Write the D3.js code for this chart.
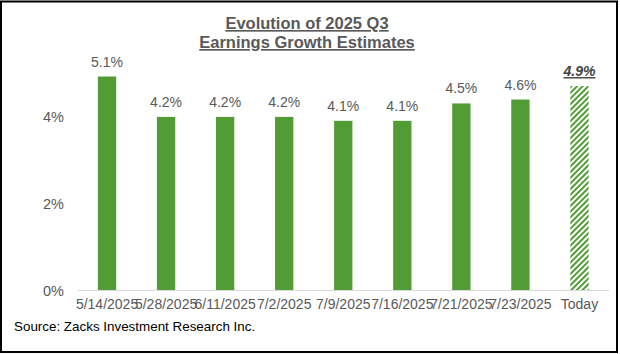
<!DOCTYPE html>
<html>
<head>
<meta charset="utf-8">
<script src="https://cdn.jsdelivr.net/npm/d3@7"></script>
<style>
  html, body { margin: 0; padding: 0; background: #fff; }
  svg { display: block; }
  text { font-family: "Liberation Sans", Arial, sans-serif; }
</style>
</head>
<body>
<svg id="chart" width="620" height="354"></svg>
<script>
// ---- data ----
const categories = ["5/14/2025", "5/28/2025", "6/11/2025", "7/2/2025", "7/9/2025", "7/16/2025", "7/21/2025", "7/23/2025", "Today"];
// printed estimate labels (%)
const estimates = [5.1, 4.2, 4.2, 4.2, 4.1, 4.1, 4.5, 4.6, 4.9];
// bar heights as drawn against the axis (%)
const barHeights = [4.93, 4.0, 4.0, 4.0, 3.91, 3.91, 4.31, 4.40, 4.71];
const yTicks = [0, 2, 4];
const titleLines = ["Evolution of 2025 Q3", "Earnings Growth Estimates"];
const sourceText = "Source: Zacks Investment Research Inc.";

// ---- layout ----
const svg = d3.select("#chart");
const W = 620, H = 354;
const plot = { left: 77.5, right: 609, top: 30, bottom: 290.5 };
const green = "#529c36";

svg.append("rect").attr("x", 1).attr("y", 1.5).attr("width", 616).attr("height", 350.5)
  .attr("fill", "#fff").attr("stroke", "#000").attr("stroke-width", 2);

const defs = svg.append("defs");
const pat = defs.append("pattern").attr("id", "hatch")
  .attr("patternUnits", "userSpaceOnUse").attr("width", 4).attr("height", 4)
  .attr("patternTransform", "rotate(45)");
pat.append("rect").attr("width", 4).attr("height", 4).attr("fill", "#fff");
pat.append("rect").attr("x", 0).attr("width", 2).attr("height", 4).attr("fill", green);

const x = d3.scaleBand().domain(categories).range([plot.left, plot.right])
  .paddingInner(0.69).paddingOuter(0.345);
const y = d3.scaleLinear().domain([0, 6]).range([plot.bottom, plot.bottom - 6 * 43.4]);

// title
const title = svg.append("text").attr("text-anchor", "middle")
  .attr("font-size", 16.5).attr("font-weight", "bold").attr("fill", "#595959")
  .attr("text-decoration", "underline");
titleLines.forEach((t, i) => {
  title.append("tspan").attr("x", 307).attr("y", 29 + i * 19).text(t);
});

// y axis labels
const yAxis = d3.axisLeft(y).tickValues(yTicks).tickFormat(d => d + "%").tickSize(0).tickPadding(0);
const ga = svg.append("g").attr("transform", `translate(64,0)`).call(yAxis);
ga.select(".domain").remove();
ga.selectAll("text").attr("font-size", 14.5).attr("fill", "#595959")
  .attr("font-family", "Liberation Sans, Arial, sans-serif");

// bars
const last = categories.length - 1;
svg.append("g").selectAll("rect").data(barHeights).join("rect")
  .attr("x", (d, i) => x(categories[i]))
  .attr("width", x.bandwidth())
  .attr("y", d => y(d))
  .attr("height", d => y(0) - y(d))
  .attr("fill", (d, i) => i === last ? "url(#hatch)" : green);

// baseline
svg.append("line").attr("x1", plot.left).attr("x2", plot.right)
  .attr("y1", plot.bottom).attr("y2", plot.bottom)
  .attr("stroke", "#d9d9d9").attr("stroke-width", 1.2);

// value labels
svg.append("g").selectAll("text").data(estimates).join("text")
  .attr("x", (d, i) => x(categories[i]) + x.bandwidth() / 2)
  .attr("y", (d, i) => y(barHeights[i]) - 10)
  .attr("text-anchor", "middle")
  .attr("font-size", 14)
  .attr("fill", (d, i) => i === last ? "#404040" : "#595959")
  .attr("font-weight", (d, i) => i === last ? "bold" : "normal")
  .attr("font-style", (d, i) => i === last ? "italic" : "normal")
  .attr("text-decoration", (d, i) => i === last ? "underline" : "none")
  .text(d => d.toFixed(1) + "%");

// x labels
const xAxis = d3.axisBottom(x).tickSize(0).tickPadding(0);
const gx = svg.append("g").attr("transform", `translate(0,${plot.bottom + 9})`).call(xAxis);
gx.select(".domain").remove();
gx.selectAll("text").attr("font-size", 14).attr("fill", "#595959")
  .attr("font-family", "Liberation Sans, Arial, sans-serif").attr("dy", "0.71em");

// source
svg.append("text").attr("x", 14).attr("y", 331).attr("font-size", 13.4).attr("fill", "#000")
  .text(sourceText);
</script>
</body>
</html>
